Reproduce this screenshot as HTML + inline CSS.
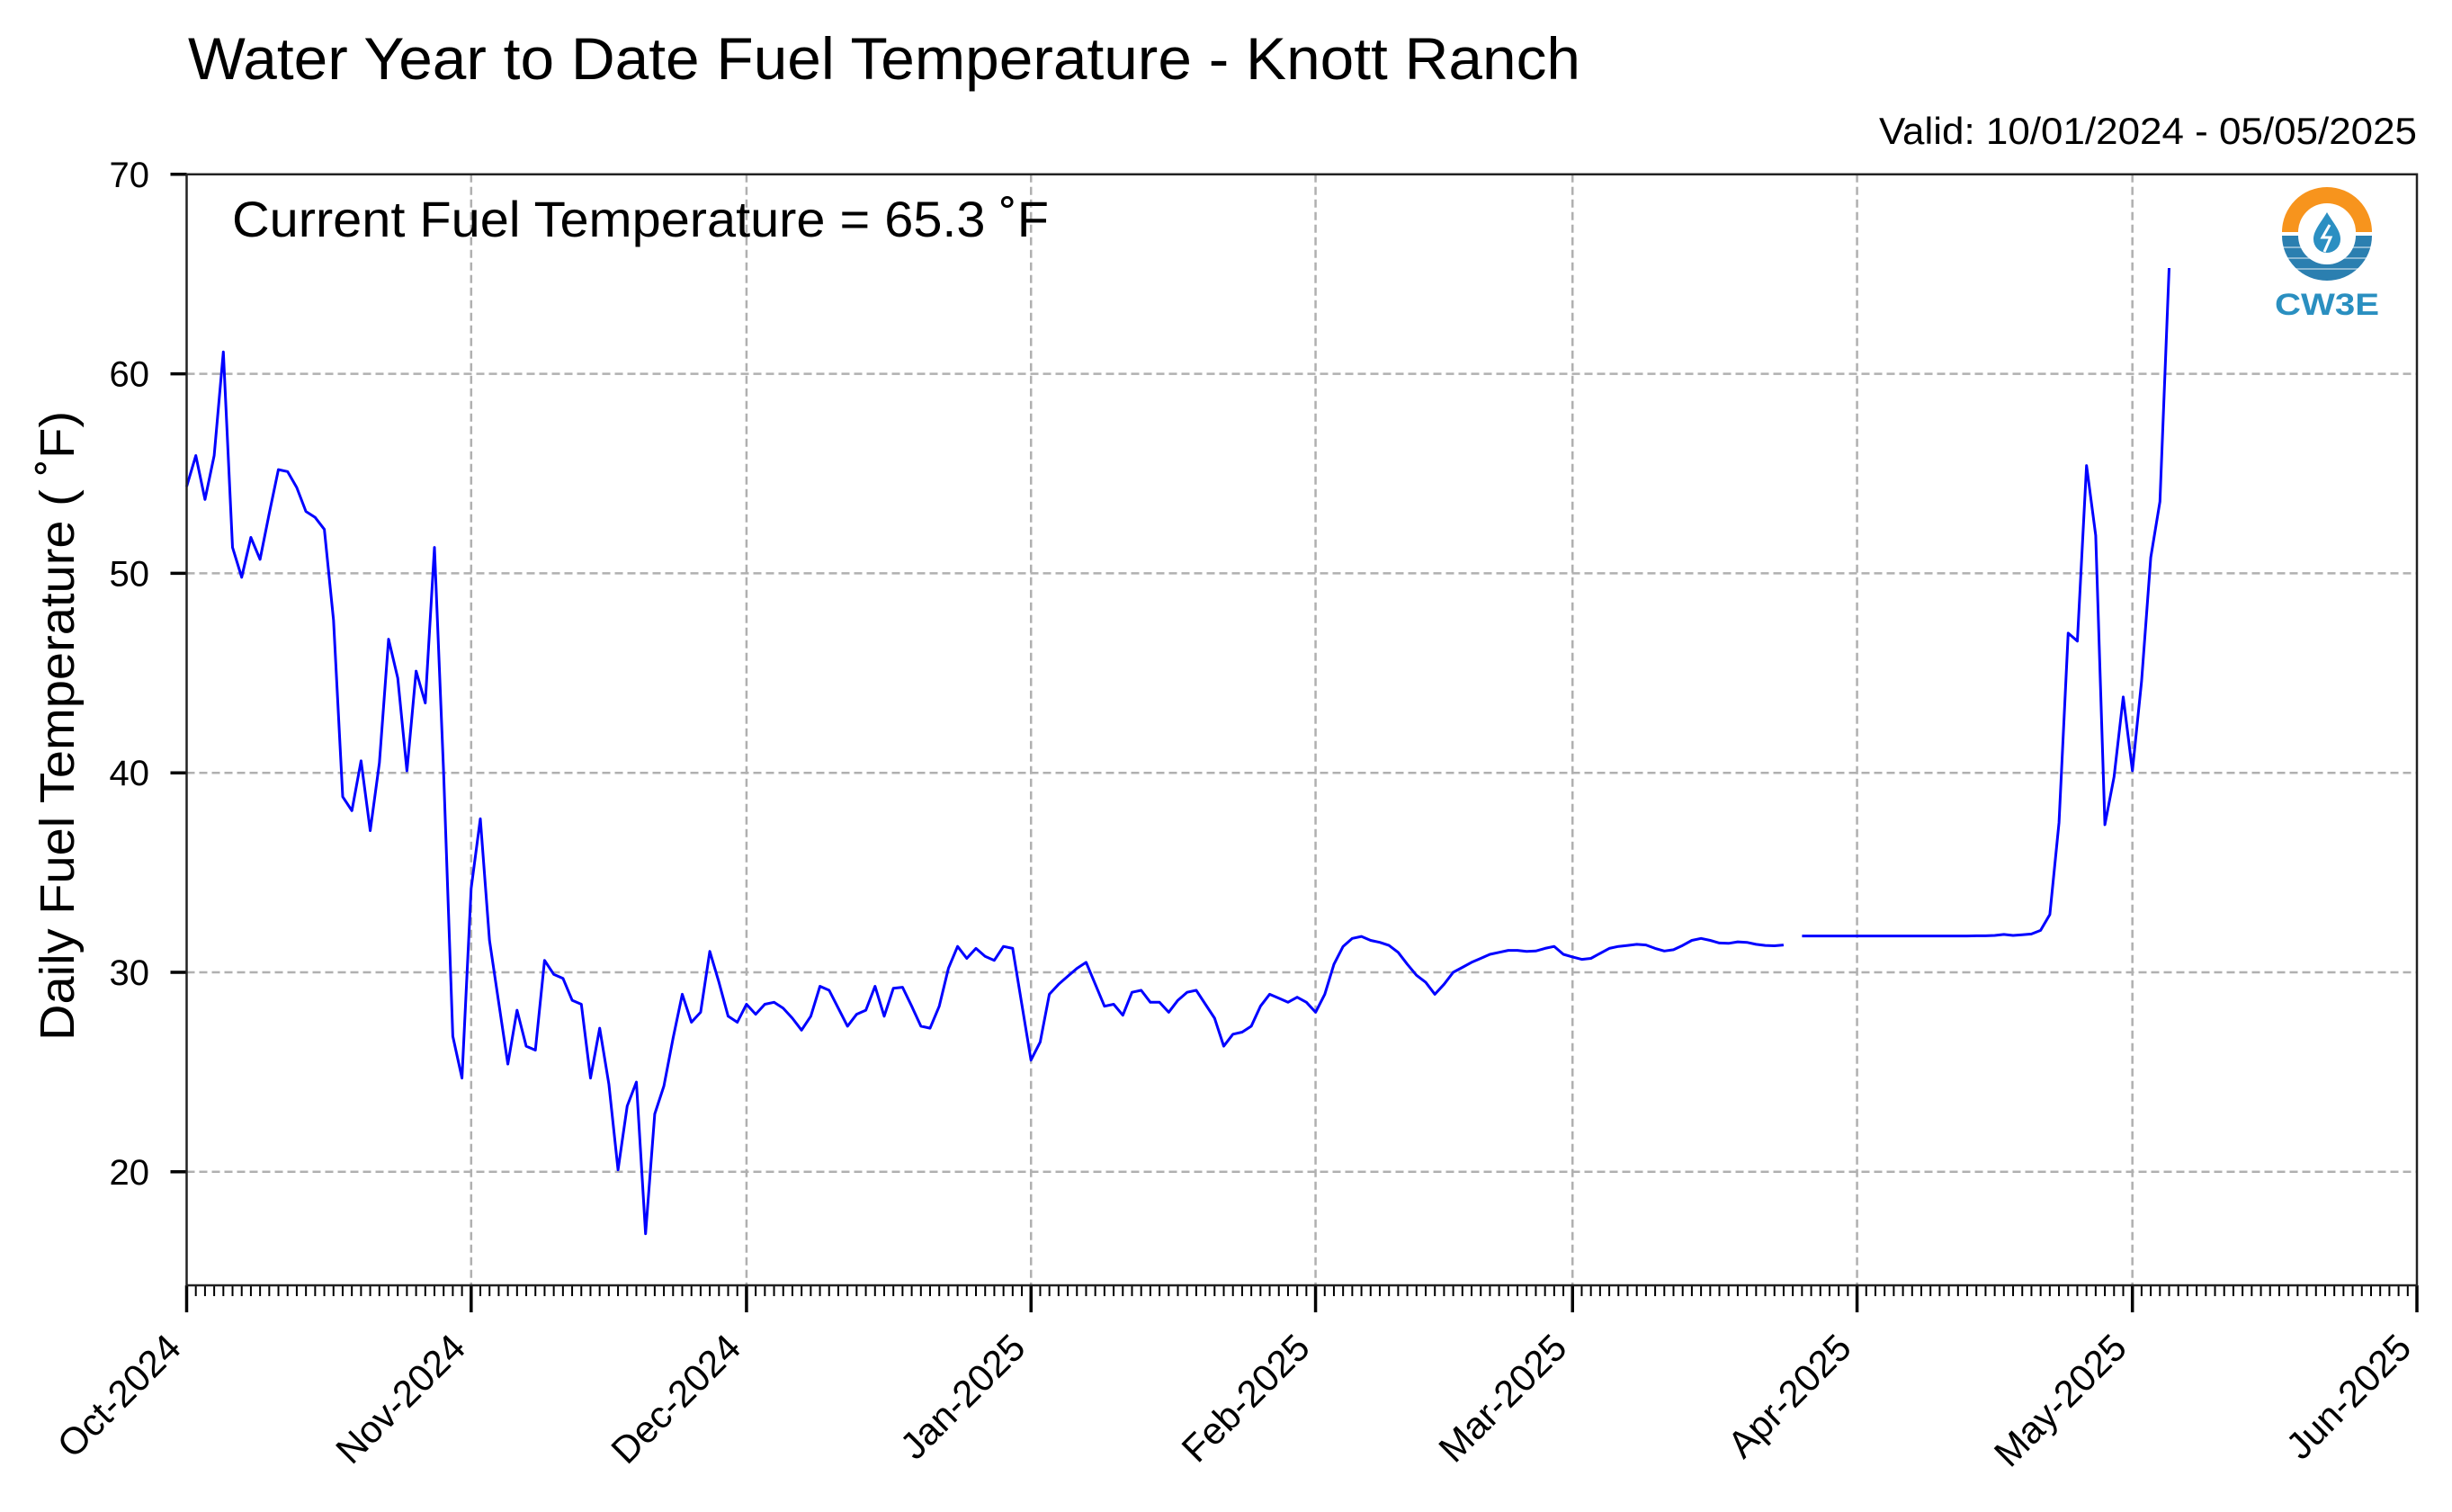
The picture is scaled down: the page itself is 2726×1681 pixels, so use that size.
<!DOCTYPE html>
<html><head><meta charset="utf-8"><title>Water Year to Date Fuel Temperature - Knott Ranch</title>
<style>html,body{margin:0;padding:0;background:#fff}svg{display:block}text{font-family:"Liberation Sans",Arial,sans-serif}</style>
</head><body>
<svg id="chart" width="2726" height="1681" viewBox="0 0 2726 1681" xmlns="http://www.w3.org/2000/svg">
<rect width="2726" height="1681" fill="#fff"/>
<text x="209" y="88" font-size="66" textLength="1548" lengthAdjust="spacingAndGlyphs">Water Year to Date Fuel Temperature - Knott Ranch</text>
<text x="2687" y="160" font-size="42" text-anchor="end" textLength="598" lengthAdjust="spacingAndGlyphs">Valid: 10/01/2024 - 05/05/2025</text>
<g id="grid"></g>
<g id="series"></g>
<g id="axes"></g>
<text x="258" y="263" font-size="56" textLength="908" lengthAdjust="spacingAndGlyphs">Current Fuel Temperature = 65.3 ˚F</text>
<text transform="translate(82,807) rotate(-90)" font-size="54" text-anchor="middle" textLength="700" lengthAdjust="spacingAndGlyphs">Daily Fuel Temperature ( ˚F)</text>
<g>
  <path d="M2537,258 A50,50 0 0 1 2637,258 L2619,258 A32,32 0 0 0 2555,258 Z" fill="#f7941d"/>
  <path d="M2537,262 A50,50 0 0 0 2637,262 L2619,262 A32,32 0 0 1 2555,262 Z" fill="#2b7fb0"/>
  <g stroke="#fff" stroke-width="1.5" opacity="0.6">
    <line x1="2537" y1="275" x2="2637" y2="275"/><line x1="2537" y1="287" x2="2637" y2="287"/><line x1="2537" y1="299" x2="2637" y2="299"/>
  </g>
  <path d="M2587,236 C2580,248 2572,256 2572,266 A15,15 0 0 0 2602,266 C2602,256 2594,248 2587,236 Z" fill="#2b8fc2"/>
  <path d="M2590,250 L2582,264 L2591,264 L2584,280" stroke="#fff" stroke-width="3" fill="none"/>
  <text x="2587" y="350" font-size="34" font-weight="bold" text-anchor="middle" textLength="116" lengthAdjust="spacingAndGlyphs" fill="#2a8fc0">CW3E</text>
</g>
</svg>
<script>
const monthLabels = ["Oct-2024","Nov-2024","Dec-2024","Jan-2025","Feb-2025","Mar-2025","Apr-2025","May-2025","Jun-2025"];
const monthStartDays = [0,31,61,92,123,151,182,212,243];
const yTicks = [20,30,40,50,60,70];
const octVals = [54.35,55.9,53.7,55.9,61.1,51.3,49.8,51.8,50.7,53.0,55.2,55.1,54.3,53.1,52.8,52.2,47.65,38.8,38.1,40.6,37.1,40.5,46.7,44.75,40.1,45.1,43.5,51.3,40.0,26.8,24.7];
const novVals = [34.2,37.7,31.6,28.5,25.4,28.1,26.3,26.1,30.6,29.9,29.7,28.6,28.4,24.7,27.2,24.4,20.1,23.3,24.5,16.9,22.9,24.3,26.7,28.9,27.5,28.0,31.05,29.5,27.8,27.5];
const decVals = [28.4,27.9,28.4,28.5,28.2,27.7,27.1,27.8,29.3,29.1,28.2,27.3,27.9,28.1,29.3,27.8,29.2,29.25,28.3,27.3,27.2,28.3,30.2,31.3,30.7,31.2,30.8,30.6,31.3,31.2,28.4];
const janVals = [25.6,26.5,28.9,29.4,29.8,30.2,30.5,29.4,28.3,28.4,27.85,29.0,29.1,28.5,28.5,28.0,28.6,29.0,29.1,28.4,27.7,26.3,26.9,27.0,27.3,28.3,28.9,28.7,28.5,28.75,28.5];
const febVals = [28.0,28.9,30.4,31.3,31.7,31.8,31.6,31.5,31.35,31.0,30.4,29.85,29.5,28.9,29.4,30.0,30.25,30.5,30.7,30.9,31.0,31.1,31.1,31.05,31.07,31.2,31.3,30.9];
const marVals = [30.77,30.65,30.7,30.95,31.2,31.3,31.35,31.4,31.37,31.2,31.07,31.13,31.35,31.6,31.7,31.6,31.47,31.45,31.53,31.5,31.4,31.35,31.33,31.37,null,31.82,31.82,31.82,31.82,31.82,31.82];
const aprVals = [31.82,31.82,31.82,31.82,31.82,31.82,31.82,31.82,31.82,31.82,31.82,31.82,31.82,31.83,31.83,31.85,31.9,31.85,31.88,31.92,32.1,32.9,37.5,47.0,46.6,55.4,51.9,37.4,39.8,43.8];
const mayVals = [40.1,44.6,50.8,53.6,65.3];

const NS = "http://www.w3.org/2000/svg";
const X0 = 207.5, X1 = 2687, Y_TOP = 193.8, Y_BOT = 1429;
const DAYS = 243, YMAX = 70, YMIN = 70 - (Y_BOT - Y_TOP) / 22.18;
function xScale(d){ return X0 + d * (X1 - X0) / DAYS; }
function yScale(v){ return Y_TOP + (YMAX - v) * (Y_BOT - Y_TOP) / (YMAX - YMIN); }
function mk(tag, attrs, parent){ const e = document.createElementNS(NS, tag); for (const k in attrs) e.setAttribute(k, attrs[k]); parent.appendChild(e); return e; }

const grid = document.getElementById('grid');
const axes = document.getElementById('axes');
const series = document.getElementById('series');

monthStartDays.forEach((d, i) => {
  const x = xScale(d);
  if (i > 0 && i < monthStartDays.length - 1) {
    const g = mk('line', {x1:x, x2:x, y1:Y_TOP, y2:Y_BOT, stroke:'#b0b0b0', 'stroke-width':2.5, 'stroke-dasharray':'9,5'}, grid);
    
    
  }
  const t = mk('line', {x1:x, x2:x, y1:Y_BOT, y2:Y_BOT+30, stroke:'#000', 'stroke-width':3.5}, axes);
  
  
  const lab = mk('text', {transform:`translate(${x-4},${Y_BOT+72}) rotate(-45)`, 'font-size':42, 'text-anchor':'end'}, axes);
  lab.textContent = monthLabels[i];
  
  
});
for (let d = 1; d < DAYS; d++) {
  if (monthStartDays.includes(d)) continue;
  const x = xScale(d);
  const m = mk('line', {x1:x, x2:x, y1:Y_BOT, y2:Y_BOT+12, stroke:'#000', 'stroke-width':2}, axes);
  
  
}
yTicks.forEach(v => {
  const y = yScale(v);
  if (v < 70) {
    const g = mk('line', {x1:X0, x2:X1, y1:y, y2:y, stroke:'#b0b0b0', 'stroke-width':2.5, 'stroke-dasharray':'9,5'}, grid);
    
    
  }
  const t = mk('line', {x1:X0-18, x2:X0, y1:y, y2:y, stroke:'#000', 'stroke-width':3.5}, axes);
  
  
  const lab = mk('text', {x:166, y:y+14, 'font-size':40, 'text-anchor':'end'}, axes);
  lab.textContent = String(v);
  
  
});
const frame = mk('rect', {x:X0, y:Y_TOP, width:X1-X0, height:Y_BOT-Y_TOP, fill:'none', stroke:'#222', 'stroke-width':2.5}, axes);



const values = [].concat(octVals, novVals, decVals, janVals, febVals, marVals, aprVals, mayVals);
let dStr = '', pen = false;
values.forEach((v, i) => {
  if (v === null) { pen = false; return; }
  dStr += (pen ? 'L' : 'M') + xScale(i).toFixed(1) + ',' + yScale(v).toFixed(1);
  pen = true;
});
const line = mk('path', {d:dStr, fill:'none', stroke:'#0000ff', 'stroke-width':3, 'stroke-linejoin':'round'}, series);


</script>
</body></html>
